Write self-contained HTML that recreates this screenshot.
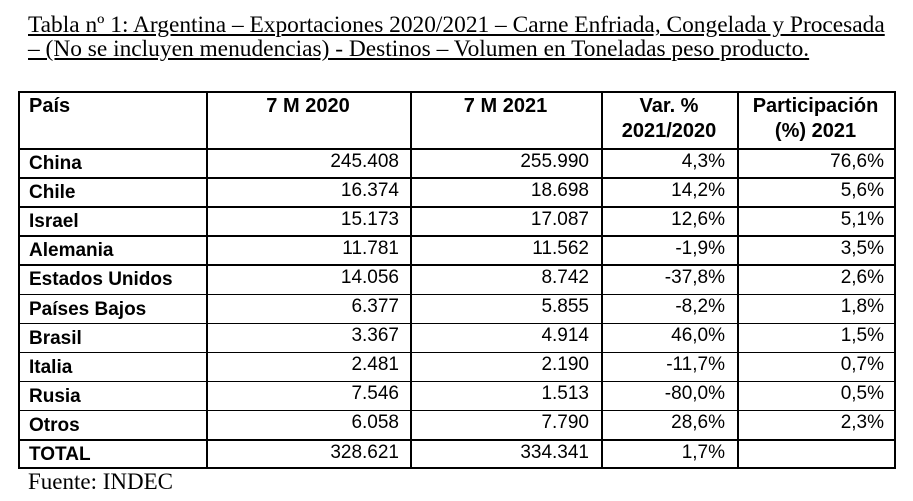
<!DOCTYPE html>
<html><head><meta charset="utf-8"><style>
body{margin:0;width:913px;height:501px;background:#fff;position:relative;overflow:hidden;font-family:"Liberation Sans",sans-serif;color:#000}
.t{position:absolute;left:28px;font-family:"Liberation Serif",serif;font-size:23.4px;text-decoration:underline;white-space:nowrap;line-height:24px}
.h{position:absolute;background:#000;height:1.5px}
.v{position:absolute;background:#000;width:1.5px;top:91px;height:377px}
.c{position:absolute;font-size:19px;white-space:nowrap;line-height:22px}
.b{font-weight:bold;font-size:19px}
.r{text-align:right}
.hd{position:absolute;font-weight:bold;font-size:20px;line-height:25px;text-align:center}
</style></head><body>
<div class="t" style="top:13px">Tabla nº 1: Argentina – Exportaciones 2020/2021 – Carne Enfriada, Congelada y Procesada</div>
<div class="t" style="top:37px">– (No se incluyen menudencias) - Destinos – Volumen en Toneladas peso producto.</div>
<div class="v" style="left:18px"></div>
<div class="v" style="left:206px"></div>
<div class="v" style="left:410px"></div>
<div class="v" style="left:601px"></div>
<div class="v" style="left:737px"></div>
<div class="v" style="left:894px"></div>
<div class="h" style="left:18px;width:878px;top:91px"></div>
<div class="hd" style="left:29px;top:94px;text-align:left">País</div>
<div class="hd" style="left:206px;width:204px;top:94px">7 M 2020</div>
<div class="hd" style="left:410px;width:191px;top:94px">7 M 2021</div>
<div class="hd" style="left:601px;width:136px;top:94px">Var. %<br>2021/2020</div>
<div class="hd" style="left:737px;width:157px;top:94px">Participación<br>(%) 2021</div>
<div id="rows"></div>
<div class="c" style="left:28px;top:469px;font-family:'Liberation Serif',serif;font-size:23px;line-height:26px">Fuente: INDEC</div>
<script>
var d=[["China","245.408","255.990","4,3%","76,6%"],["Chile","16.374","18.698","14,2%","5,6%"],["Israel","15.173","17.087","12,6%","5,1%"],["Alemania","11.781","11.562","-1,9%","3,5%"],["Estados Unidos","14.056","8.742","-37,8%","2,6%"],["Países Bajos","6.377","5.855","-8,2%","1,8%"],["Brasil","3.367","4.914","46,0%","1,5%"],["Italia","2.481","2.190","-11,7%","0,7%"],["Rusia","7.546","1.513","-80,0%","0,5%"],["Otros","6.058","7.790","28,6%","2,3%"],["TOTAL","328.621","334.341","1,7%",""]];
var h="",rights=[399,589,725,884];
for(var i=0;i<d.length;i++){var y=148+i*29.1;
h+='<div class="h" style="left:18px;width:878px;top:'+y.toFixed(1)+'px"></div>';
h+='<div class="c b" style="left:29px;top:'+(y+5).toFixed(1)+'px">'+d[i][0]+'</div>';
for(var j=0;j<4;j++)h+='<div class="c r" style="right:'+(913-rights[j])+'px;top:'+(y+2.5).toFixed(1)+'px">'+d[i][j+1]+'</div>';}
h+='<div class="h" style="left:18px;width:878px;top:467px"></div>';
document.getElementById("rows").innerHTML=h;
</script>
</body></html>
